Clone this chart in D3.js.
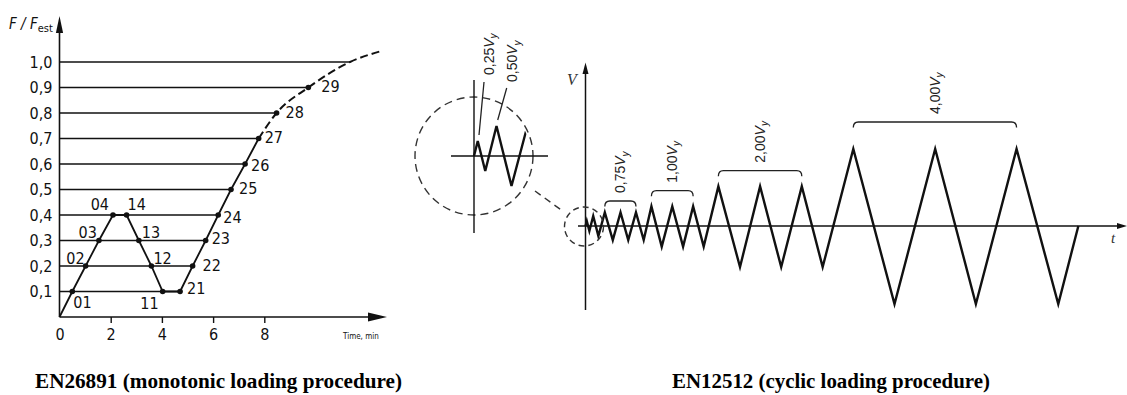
<!DOCTYPE html>
<html><head><meta charset="utf-8">
<script src="https://cdn.jsdelivr.net/npm/d3@7"></script>
<style>
body{margin:0;background:#fff;}
svg{display:block;}
.narrow{font-family:"Liberation Sans Narrow","DejaVu Sans Condensed",sans-serif;font-stretch:condensed;}
</style>
</head><body>
<svg id="c" width="1127" height="395"></svg>
<script>
// ---------- DATA: EN26891 (monotonic) ----------
const levels      = [0.1,0.2,0.3,0.4,0.5,0.6,0.7,0.8,0.9,1.0];
const levelEndT   = [4.71,5.2,5.71,6.2,6.7,7.25,7.78,8.48,9.72,11.35];
const ptLabels    = ["01","02","03","04","14","13","12","11","21","22","23","24","25","26","27","28","29"];
const ptTime      = [0.5,1.02,1.54,2.09,2.62,3.1,3.59,4.03,4.71,5.2,5.71,6.2,6.7,7.25,7.78,8.48,9.72];
const ptValue     = [0.1,0.2,0.3,0.4,0.4,0.3,0.2,0.1,0.1,0.2,0.3,0.4,0.5,0.6,0.7,0.8,0.9];
const curveTail   = [[11.35,1.0],[12.6,1.044]];
const xTicks      = [0,2,4,6,8];
const yTicks      = [0.1,0.2,0.3,0.4,0.5,0.6,0.7,0.8,0.9,1.0];

// ---------- DATA: EN12512 (cyclic) ----------
const cycT = [0,0.25,0.75,1.5,2.5,3.75,5.3,6.8,8.3,9.8,11.3,12.8,14.8,16.85,18.95,20.9,22.95,25.8,30,33.9,38,42,46.05,52,60,67.9,75.8,83.7,91.8,95.7];
const cycV = [0,0.25,-0.25,0.5,-0.5,0.68,-0.7,0.68,-0.7,0.68,-0.7,0.98,-1.03,0.98,-1.03,0.98,-1.03,1.98,-2.05,1.98,-2.05,1.98,-2.05,3.85,-3.9,3.85,-3.9,3.85,-3.9,0];
const groups = [
  {label:"0,75", first:5,  last:9},
  {label:"1,00", first:11, last:15},
  {label:"2,00", first:17, last:21},
  {label:"4,00", first:23, last:27}
];
const insetLabels = ["0,25","0,50"];

// ---------- LAYOUT ----------
const svg = d3.select("#c");
const ink = "#111";

// ===== Left chart =====
const xL = d3.scaleLinear().domain([0,8]).range([59.5,264.3]);
const yL = d3.scaleLinear().domain([0,1]).range([317,62]);
const gL = svg.append("g");

gL.selectAll("line.lvl").data(levels).join("line")
  .attr("x1",xL(0)).attr("x2",(d,i)=>xL(levelEndT[i]))
  .attr("y1",d=>yL(d)).attr("y2",d=>yL(d))
  .attr("stroke",ink).attr("stroke-width",1.4);

const xAx = gL.append("g").attr("transform",`translate(0,${yL(0)})`)
  .call(d3.axisBottom(xL).tickValues(xTicks).tickSize(6).tickPadding(6).tickFormat(d=>d));
xAx.select(".domain").remove();
xAx.selectAll(".tick line").attr("stroke",ink).attr("stroke-width",1.4).filter(d=>d===0).remove();
xAx.selectAll("text").attr("class","narrow").attr("font-size",16).attr("fill",ink);

const yAx = gL.append("g").attr("transform",`translate(${xL(0)},0)`)
  .call(d3.axisLeft(yL).tickValues(yTicks).tickSize(0).tickPadding(7).tickFormat(d=>d.toFixed(1).replace(".",",")));
yAx.select(".domain").remove();
yAx.selectAll("text").attr("class","narrow").attr("font-size",16).attr("fill",ink);

gL.append("line").attr("x1",xL(0)).attr("x2",372).attr("y1",yL(0)).attr("y2",yL(0)).attr("stroke",ink).attr("stroke-width",1.6);
gL.append("path").attr("d",`M387,${yL(0)} L368,${yL(0)-4.5} L368,${yL(0)+4.5}Z`).attr("fill",ink);
gL.append("line").attr("x1",xL(0)).attr("x2",xL(0)).attr("y1",yL(0)).attr("y2",30).attr("stroke",ink).attr("stroke-width",1.6);
gL.append("path").attr("d",`M${xL(0)},16 L${xL(0)-3.6},33 L${xL(0)+3.6},33Z`).attr("fill",ink);

const ft = gL.append("text").attr("x",9).attr("y",29).attr("font-family","Liberation Sans Narrow, DejaVu Sans Condensed, sans-serif").attr("font-size",15).attr("fill",ink);
ft.append("tspan").attr("font-style","italic").text("F / F");
ft.append("tspan").attr("font-size",11).attr("dy",3).text("est");
gL.append("text").attr("x",343).attr("y",339).attr("font-family","Liberation Sans Narrow, DejaVu Sans Condensed, sans-serif").attr("font-size",8).attr("fill",ink).text("Time, min");

const pts = ptTime.map((t,i)=>[t,ptValue[i]]);
const solidIdx = ptLabels.indexOf("27");
const solidPts = [[0,0]].concat(pts.slice(0,solidIdx+1));
const lineL = d3.line().x(d=>xL(d[0])).y(d=>yL(d[1]));
gL.append("path").attr("d",lineL(solidPts)).attr("fill","none").attr("stroke",ink).attr("stroke-width",1.8);
const dashPts = pts.slice(solidIdx).concat(curveTail);
gL.append("path").attr("d",lineL.curve(d3.curveMonotoneX)(dashPts)).attr("fill","none").attr("stroke",ink).attr("stroke-width",2).attr("stroke-dasharray","8,4");

gL.selectAll("circle.pt").data(pts).join("circle")
  .attr("cx",d=>xL(d[0])).attr("cy",d=>yL(d[1])).attr("r",2.8).attr("fill",ink);

const lblOff = {"01":[1,11,"start"],"02":[-1,-8,"end"],"03":[-2,-8.5,"end"],"04":[-4,-11,"end"],
  "14":[1,-11,"start"],"13":[3,-8.5,"start"],"12":[2,-8,"start"],"11":[-4,11.5,"end"],
  "21":[7,-3.5,"start"],"22":[10,-1,"start"],"23":[6,-2.5,"start"],"24":[5,2,"start"],
  "25":[8,-1.5,"start"],"26":[6,1,"start"],"27":[6,-1.5,"start"],"28":[9,-1,"start"],"29":[13,-1.5,"start"]};
gL.selectAll("text.pl").data(pts).join("text").attr("class","narrow pl")
  .attr("x",(d,i)=>xL(d[0])+lblOff[ptLabels[i]][0])
  .attr("y",(d,i)=>yL(d[1])+lblOff[ptLabels[i]][1])
  .attr("dy","0.36em").attr("text-anchor",(d,i)=>lblOff[ptLabels[i]][2])
  .attr("font-size",16).attr("fill",ink).text((d,i)=>ptLabels[i]);

// ===== Right chart =====
const xR = d3.scaleLinear().domain([0,96]).range([585.5,585.5+96*5.15]);
const yR = d3.scaleLinear().domain([-4,4]).range([226+80,226-80]);
const gR = svg.append("g");
const cyc = cycT.map((t,i)=>[t,cycV[i]]);

gR.append("line").attr("x1",xR(0)).attr("x2",xR(0)).attr("y1",310).attr("y2",70).attr("stroke",ink).attr("stroke-width",1.5);
gR.append("path").attr("d",`M${xR(0)},62.5 L${xR(0)-3},74 L${xR(0)+3},74Z`).attr("fill",ink);
gR.append("line").attr("x1",578).attr("x2",1120).attr("y1",yR(0)).attr("y2",yR(0)).attr("stroke",ink).attr("stroke-width",1.4);
gR.append("path").attr("d",`M1127,${yR(0)} L1117,${yR(0)-3} L1117,${yR(0)+3}Z`).attr("fill",ink);
gR.append("text").attr("x",567).attr("y",85).attr("font-family","Liberation Serif, serif").attr("font-style","italic").attr("font-size",16).attr("fill","#333").text("V");
gR.append("text").attr("x",1111).attr("y",243).attr("font-family","Liberation Serif, serif").attr("font-style","italic").attr("font-size",15).attr("fill","#333").text("t");

const lineR = d3.line().x(d=>xR(d[0])).y(d=>yR(d[1]));
gR.append("path").attr("d",lineR(cyc)).attr("fill","none").attr("stroke",ink).attr("stroke-width",2.4).attr("stroke-linejoin","miter").attr("stroke-miterlimit",10);

const brY = [201,190.7,170.7,122];
const sansF = "Liberation Sans, Arial, sans-serif";
groups.forEach((g,k)=>{
  const x0 = xR(cycT[g.first]), x1 = xR(cycT[g.last]), y = brY[k], h = 5.5, r = 5;
  gR.append("path").attr("d",`M${x0},${y+h} Q${x0},${y} ${x0+r},${y} L${x1-r},${y} Q${x1},${y} ${x1},${y+h}`)
    .attr("fill","none").attr("stroke","#222").attr("stroke-width",1.3);
  const cx = (x0+x1)/2, by = y-8;
  const t = gR.append("text").attr("transform",`translate(${cx},${by}) rotate(-90)`)
    .attr("dy","0.33em").attr("font-family",sansF).attr("font-size",14).attr("fill","#222");
  t.append("tspan").text(g.label);
  t.append("tspan").attr("font-style","italic").text("V");
  t.append("tspan").attr("font-style","italic").attr("font-size",10).attr("dy","0.35em").text("y");
});

gR.append("circle").attr("cx",584).attr("cy",226.5).attr("r",19.5).attr("fill","none").attr("stroke","#333").attr("stroke-width",1.4).attr("stroke-dasharray","6,4");
gR.append("line").attr("x1",535).attr("y1",191).attr("x2",564).attr("y2",212).attr("stroke","#333").attr("stroke-width",1.4).attr("stroke-dasharray","7,5");

const icx = 474, icy = 156, ir = 59;
const xI = d3.scaleLinear().domain([0,1]).range([icx,icx+15]);
const yI = d3.scaleLinear().domain([0,1]).range([icy,icy-60]);
const gI = gR.append("g");
gI.append("circle").attr("cx",icx).attr("cy",icy).attr("r",ir).attr("fill","none").attr("stroke","#333").attr("stroke-width",1.4).attr("stroke-dasharray","8,5");
gI.append("line").attr("x1",icx).attr("x2",icx).attr("y1",80).attr("y2",233).attr("stroke",ink).attr("stroke-width",1.4);
gI.append("line").attr("x1",451).attr("x2",548).attr("y1",icy).attr("y2",icy).attr("stroke",ink).attr("stroke-width",1.4);
svg.append("defs").append("clipPath").attr("id","ic").append("circle").attr("cx",icx).attr("cy",icy).attr("r",ir-2);
gI.append("path").attr("clip-path","url(#ic)")
  .attr("d",d3.line().x(d=>xI(d[0])).y(d=>yI(d[1]))(cyc.slice(0,7)))
  .attr("fill","none").attr("stroke",ink).attr("stroke-width",2.4).attr("stroke-linejoin","miter");

const insetPos = [{cx:489,by:75,l:[484,82,479,135]},{cx:512.5,by:82,l:[506.7,88,497.7,120]}];
insetLabels.forEach((lab,k)=>{
  const p = insetPos[k];
  gI.append("line").attr("x1",p.l[0]).attr("y1",p.l[1]).attr("x2",p.l[2]).attr("y2",p.l[3]).attr("stroke","#222").attr("stroke-width",1.3);
  const t = gI.append("text").attr("transform",`translate(${p.cx},${p.by}) rotate(-90)`)
    .attr("dy","0.33em").attr("font-family",sansF).attr("font-size",14).attr("fill","#222");
  t.append("tspan").text(lab);
  t.append("tspan").attr("font-style","italic").text("V");
  t.append("tspan").attr("font-style","italic").attr("font-size",10).attr("dy","0.35em").text("y");
});

svg.append("text").attr("x",35).attr("y",388).attr("font-family","Liberation Serif, serif").attr("font-weight","bold")
  .attr("font-size",20).attr("textLength",367).attr("lengthAdjust","spacingAndGlyphs").attr("fill","#000")
  .text("EN26891 (monotonic loading procedure)");
svg.append("text").attr("x",672).attr("y",388).attr("font-family","Liberation Serif, serif").attr("font-weight","bold")
  .attr("font-size",20).attr("textLength",318).attr("lengthAdjust","spacingAndGlyphs").attr("fill","#000")
  .text("EN12512 (cyclic loading procedure)");
</script>
</body></html>
